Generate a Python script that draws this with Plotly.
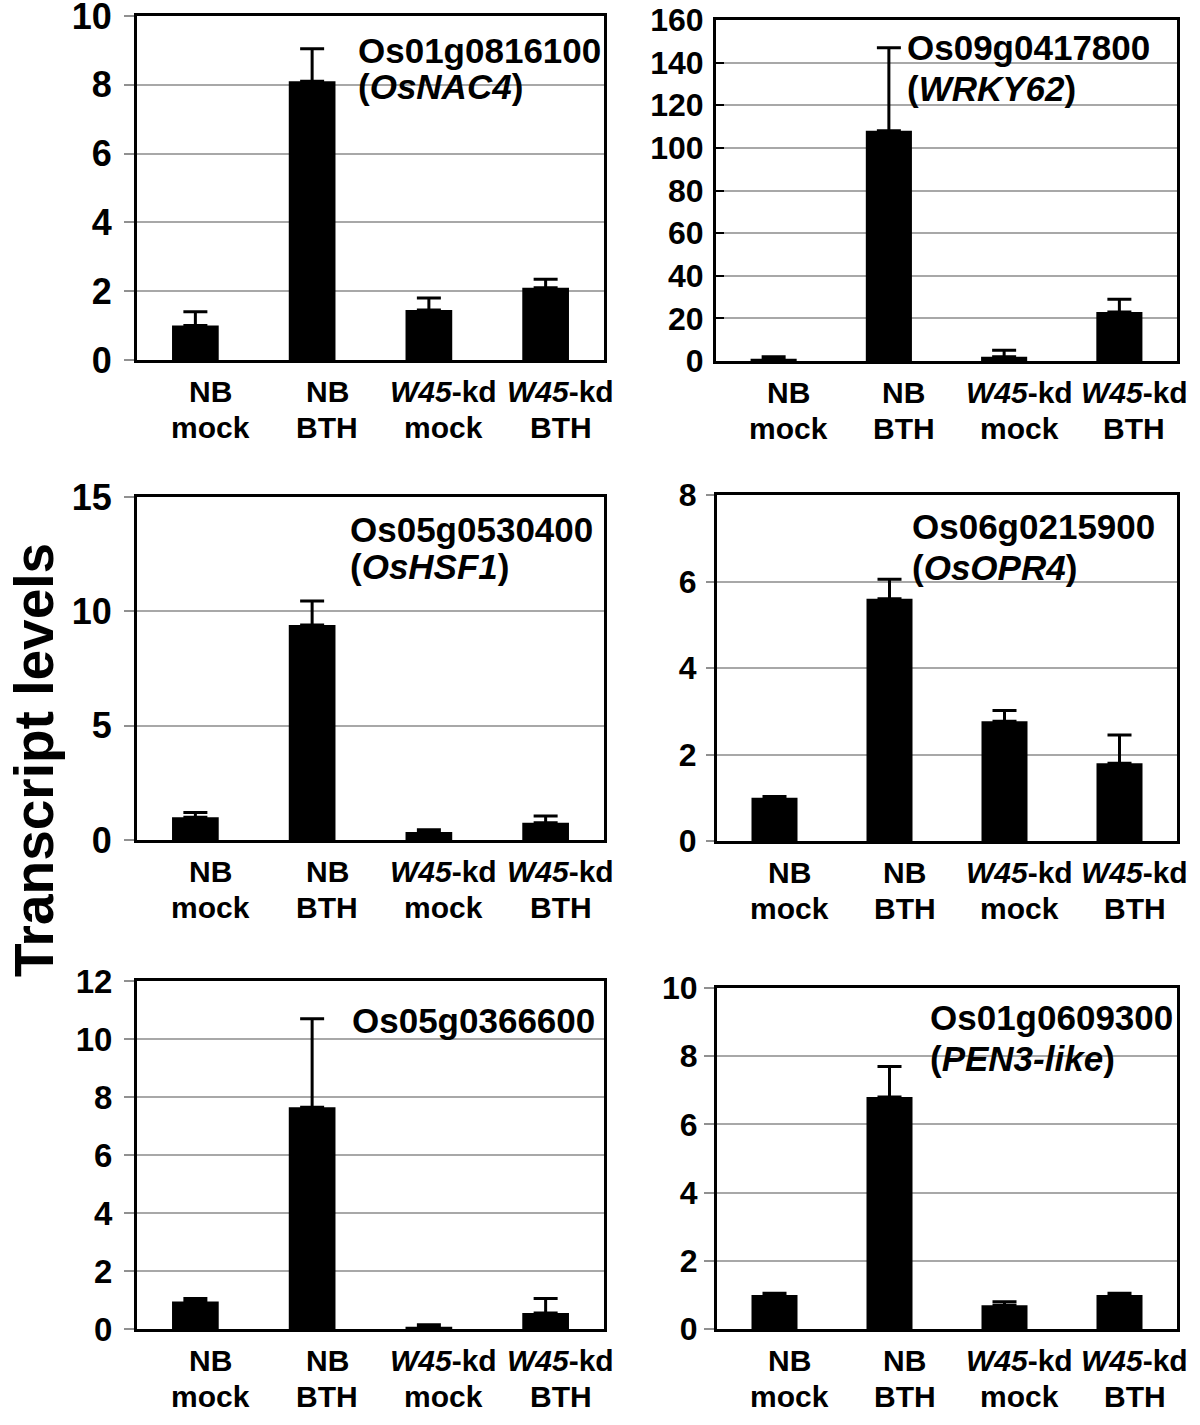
import plotly.graph_objects as go

W, H = 1200, 1425

line1 = ["NB", "NB", "<i>W45</i>-kd", "<i>W45</i>-kd"]
line2 = ["mock", "BTH", "mock", "BTH"]

# values and upper error bars per panel
p1_vals = [1.0, 8.1, 1.45, 2.1]
p1_err = [0.4, 0.95, 0.35, 0.25]
p2_vals = [1.0, 108.0, 2.0, 23.0]
p2_err = [1.0, 39.0, 3.0, 6.0]
p3_vals = [1.0, 9.4, 0.35, 0.75]
p3_err = [0.2, 1.05, 0.1, 0.3]
p4_vals = [1.0, 5.6, 2.77, 1.8]
p4_err = [0.03, 0.45, 0.25, 0.65]
p5_vals = [0.95, 7.65, 0.08, 0.55]
p5_err = [0.1, 3.05, 0.07, 0.5]
p6_vals = [1.0, 6.8, 0.7, 1.0]
p6_err = [0.05, 0.9, 0.1, 0.05]

gene_ids = ["Os01g0816100", "Os09g0417800", "Os05g0530400", "Os06g0215900", "Os05g0366600", "Os01g0609300"]
gene_names = ["OsNAC4", "WRKY62", "OsHSF1", "OsOPR4", None, "PEN3-like"]

y_max = [10, 160, 15, 8, 12, 10]
y_dtick = [2, 20, 5, 2, 2, 2]
ytick_size = [36, 32, 36, 32, 33, 32]
tick_mode = ["outside", "inside", "outside", "outside", "outside", "outside"]
tick_len = [10, 8, 10, 8, 10, 10]
tick_standoff = [5, 3, 5, 3, 5, 0]

vals = [p1_vals, p2_vals, p3_vals, p4_vals, p5_vals, p6_vals]
errs = [p1_err, p2_err, p3_err, p4_err, p5_err, p6_err]

# plot boxes in pixels (left, right, top, bottom)
boxes = [(137, 604, 16, 360), (716, 1177, 20, 361),
         (137, 604, 497, 840), (717, 1177, 495, 841),
         (137, 604, 981, 1329), (717, 1177, 988, 1329)]
# gene text anchor (left x px, first line center y px, second line center y px)
text_pos = [(356, 50, 87), (905, 48, 88), (348, 529, 566), (910, 527, 567), (350, 1020, None), (928, 1017, 1058)]

FONT = "Liberation Sans, Arial, Helvetica, sans-serif"

fig = go.Figure()
layout = dict(width=W, height=H, margin=dict(l=0, r=0, t=0, b=0, autoexpand=False),
              paper_bgcolor="white", plot_bgcolor="white", showlegend=False,
              annotations=[])

for i in range(6):
    n = i + 1
    xa = "x" if n == 1 else f"x{n}"
    ya = "y" if n == 1 else f"y{n}"
    cats = [0, 1, 2, 3]
    fig.add_trace(go.Bar(
        x=cats, y=vals[i], xaxis=xa, yaxis=ya, width=0.4,
        marker=dict(color="black", line=dict(width=0)),
        error_y=dict(type="data", symmetric=False, array=errs[i], arrayminus=[0, 0, 0, 0],
                     color="black", thickness=3, width=12),
    ))
    l, r, t, b = boxes[i]
    xkey = "xaxis" if n == 1 else f"xaxis{n}"
    ykey = "yaxis" if n == 1 else f"yaxis{n}"
    layout[xkey] = dict(domain=[l / W, r / W], anchor=ya, range=[-0.5, 3.5],
                        showticklabels=False, automargin=False,
                        showline=True, linecolor="black", linewidth=3, mirror=True,
                        showgrid=False, zeroline=False, ticks="")
    layout[ykey] = dict(domain=[1 - b / H, 1 - t / H], anchor=xa, range=[0, y_max[i]],
                        dtick=y_dtick[i], tick0=0, automargin=False,
                        showline=True, linecolor="black", linewidth=3, mirror=True,
                        showgrid=True, gridcolor="#a8a8a8", gridwidth=1.5,
                        zeroline=False, ticks=tick_mode[i], ticklen=tick_len[i],
                        tickcolor="#909090" if tick_mode[i] == "outside" else "black", tickwidth=1.5,
                        ticklabelstandoff=tick_standoff[i], ticklabeloverflow="allow",
                        tickfont=dict(family=FONT, size=ytick_size[i], color="black", weight="bold"))
    # category labels (two lines) under each bar
    for c in cats:
        for txt, shift in ((line1[c], -31), (line2[c], -67)):
            layout["annotations"].append(dict(
                x=c, y=0, xref=xa, yref=f"{ya} domain", xanchor="center", yanchor="middle",
                xshift=15, yshift=shift, text=txt, showarrow=False,
                font=dict(family=FONT, size=30, color="black", weight="bold")))
    tx, ty1, ty2 = text_pos[i]
    layout["annotations"].append(dict(
        x=tx / W, y=1 - ty1 / H, xref="paper", yref="paper", xanchor="left", yanchor="middle",
        text=gene_ids[i], showarrow=False,
        font=dict(family=FONT, size=35, color="black", weight="bold")))
    if gene_names[i]:
        layout["annotations"].append(dict(
            x=tx / W, y=1 - ty2 / H, xref="paper", yref="paper", xanchor="left", yanchor="middle",
            text=f"(<i>{gene_names[i]}</i>)", showarrow=False,
            font=dict(family=FONT, size=35, color="black", weight="bold")))

layout["annotations"].append(dict(
    x=34 / W, y=1 - 760 / H, xref="paper", yref="paper", xanchor="center", yanchor="middle",
    text="Transcript levels", textangle=-90, showarrow=False,
    font=dict(family=FONT, size=55, color="black", weight="bold")))

fig.update_layout(**layout)
fig.write_html("out.html", config={"displayModeBar": False},
               post_script="document.body.style.margin='0';document.body.style.overflow='hidden';")
